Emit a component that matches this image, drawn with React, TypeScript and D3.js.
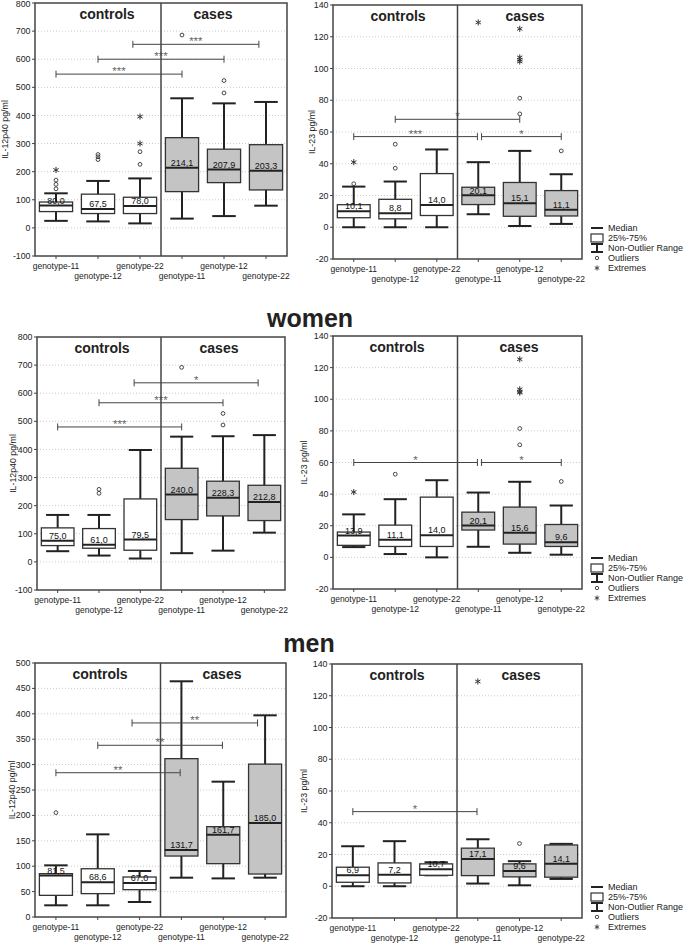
import React from 'react';
import * as d3 from 'd3';

// ---------- shared labels ----------
const categories = ['genotype-11', 'genotype-12', 'genotype-22', 'genotype-11', 'genotype-12', 'genotype-22'];
const groupLabels = ['controls', 'cases'];
const sectionTitles = ['women', 'men'];
const legendLabels = ['Median', '25%-75%', 'Non-Outlier Range', 'Outliers', 'Extremes'];

// ---------- all subjects, IL-12p40 ----------
const allIl12Median = [80.0, 67.5, 78.0, 214.1, 207.9, 203.3];
const allIl12Q1 = [58, 51, 51, 129, 161, 135];
const allIl12Q3 = [92, 120, 109, 321, 280, 296];
const allIl12Low = [25, 23, 16, 33, 42, 79];
const allIl12High = [123, 167, 176, 461, 443, 448];
const allIl12Outliers: [number, number][] = [[0, 139], [0, 155], [0, 170], [1, 243], [1, 253], [1, 261], [2, 226], [2, 271], [3, 686], [4, 480], [4, 524]];
const allIl12Extremes: [number, number][] = [[0, 206], [2, 300], [2, 396]];
const allIl12Brackets: [number, number, number, string][] = [[0, 3, 547, '***'], [1, 4, 600, '***'], [1.83, 4.83, 653, '***']];

// ---------- all subjects, IL-23 ----------
const allIl23Median = [10.1, 8.8, 14.0, 20.1, 15.1, 11.1];
const allIl23Q1 = [6.0, 5.3, 7.4, 14.3, 6.9, 7.1];
const allIl23Q3 = [14.2, 17.6, 33.8, 25.2, 28.2, 23.1];
const allIl23Low = [0, 0, 0, 8.2, 0.8, 2.1];
const allIl23High = [25.6, 28.8, 49, 41, 48.1, 33.4];
const allIl23Outliers: [number, number][] = [[0, 27.4], [1, 37.2], [1, 52.3], [4, 71.4], [4, 81.3], [5, 48.1]];
const allIl23Extremes: [number, number][] = [[0, 41], [3, 129], [4, 104.4], [4, 105.5], [4, 107], [4, 125]];
const allIl23Brackets: [number, number, number, string][] = [[0, 2.98, 57.1, '***'], [3.08, 5, 57.1, '*'], [1, 4, 68, '*']];

// ---------- women, IL-12p40 ----------
const womenIl12Median = [75.0, 61.0, 79.5, 240.0, 228.3, 212.8];
const womenIl12Q1 = [58, 48.6, 41.5, 150.5, 163.5, 147];
const womenIl12Q3 = [121, 118.5, 224, 333, 287, 272.5];
const womenIl12Low = [38, 22.5, 12, 31, 40, 104];
const womenIl12High = [167, 167, 398, 445.5, 447, 451];
const womenIl12Outliers: [number, number][] = [[1, 244], [1, 258], [3, 692], [4, 487], [4, 528]];
const womenIl12Extremes: [number, number][] = [];
const womenIl12Brackets: [number, number, number, string][] = [[0, 3, 480, '***'], [1, 4, 566, '***'], [1.85, 4.85, 637, '*']];

// ---------- women, IL-23 ----------
const womenIl23Median = [13.9, 11.1, 14.0, 20.1, 15.6, 9.6];
const womenIl23Q1 = [7.6, 6.9, 6.9, 17.3, 8.4, 6.9];
const womenIl23Q3 = [16, 20.4, 38.1, 28.6, 31.8, 20.8];
const womenIl23Low = [6.5, 2.1, 0, 6.7, 2.9, 1.7];
const womenIl23High = [27.2, 36.8, 48.8, 41, 47.8, 32.8];
const womenIl23Outliers: [number, number][] = [[1, 52.6], [4, 71.2], [4, 81.5], [5, 48]];
const womenIl23Extremes: [number, number][] = [[0, 41.3], [4, 104.2], [4, 104.8], [4, 106.3], [4, 125.3]];
const womenIl23Brackets: [number, number, number, string][] = [[0, 2.98, 60, '*'], [3.08, 5, 60, '*']];

// ---------- men, IL-12p40 ----------
const menIl12Median = [81.5, 68.6, 67.0, 131.7, 161.7, 185.0];
const menIl12Q1 = [42.6, 46, 53.8, 120, 105, 84.6];
const menIl12Q3 = [85.3, 95, 78.7, 311.7, 177.8, 301];
const menIl12Low = [23, 23, 29.5, 77.4, 76, 77.4];
const menIl12High = [101.7, 162.7, 90.5, 464, 266.4, 397];
const menIl12Outliers: [number, number][] = [[0, 205.4]];
const menIl12Extremes: [number, number][] = [];
const menIl12Brackets: [number, number, number, string][] = [[0, 2.97, 284, '**'], [1, 3.98, 338, '**'], [1.82, 4.82, 382, '**']];

// ---------- men, IL-23 ----------
const menIl23Median = [6.9, 7.2, 10.7, 17.1, 9.6, 14.1];
const menIl23Q1 = [2.5, 2.1, 6.9, 6.7, 5.9, 5.7];
const menIl23Q3 = [12, 14.7, 14.1, 24, 14.1, 26];
const menIl23Low = [0, 0, 6.9, 1.7, 0.6, 4.6];
const menIl23High = [25.2, 28.4, 15.1, 29.6, 15.8, 26.7];
const menIl23Outliers: [number, number][] = [[4, 26.9]];
const menIl23Extremes: [number, number][] = [[3, 129]];
const menIl23Brackets: [number, number, number, string][] = [[0, 2.98, 47, '*']];

type Panel = {
  x0: number; x1: number; y0: number; y1: number;
  domain: [number, number]; step: number;
  yTitle: string; yTitleX: number; titleX: [number, number];
  legend: boolean;
  median: number[]; q1: number[]; q3: number[]; low: number[]; high: number[];
  outliers: [number, number][]; extremes: [number, number][];
  brackets: [number, number, number, string][];
};

const panels: Panel[] = [
  { x0: 35, x1: 287, y0: 3, y1: 256, domain: [-100, 800], step: 100, yTitle: 'IL-12p40 pg/ml', yTitleX: 8, titleX: [107, 213], legend: false,
    median: allIl12Median, q1: allIl12Q1, q3: allIl12Q3, low: allIl12Low, high: allIl12High, outliers: allIl12Outliers, extremes: allIl12Extremes, brackets: allIl12Brackets },
  { x0: 333, x1: 582, y0: 5, y1: 259, domain: [-20, 140], step: 20, yTitle: 'IL-23 pg/ml', yTitleX: 315, titleX: [398, 525], legend: true,
    median: allIl23Median, q1: allIl23Q1, q3: allIl23Q3, low: allIl23Low, high: allIl23High, outliers: allIl23Outliers, extremes: allIl23Extremes, brackets: allIl23Brackets },
  { x0: 37, x1: 285, y0: 337, y1: 590, domain: [-100, 800], step: 100, yTitle: 'IL-12p40 pg/ml', yTitleX: 16, titleX: [102, 219], legend: false,
    median: womenIl12Median, q1: womenIl12Q1, q3: womenIl12Q3, low: womenIl12Low, high: womenIl12High, outliers: womenIl12Outliers, extremes: womenIl12Extremes, brackets: womenIl12Brackets },
  { x0: 333, x1: 582, y0: 336, y1: 589, domain: [-20, 140], step: 20, yTitle: 'IL-23 pg/ml', yTitleX: 307, titleX: [397, 519], legend: true,
    median: womenIl23Median, q1: womenIl23Q1, q3: womenIl23Q3, low: womenIl23Low, high: womenIl23High, outliers: womenIl23Outliers, extremes: womenIl23Extremes, brackets: womenIl23Brackets },
  { x0: 35, x1: 286, y0: 663, y1: 917, domain: [0, 500], step: 50, yTitle: 'IL-12p40 pg/ml', yTitleX: 15, titleX: [100, 222], legend: false,
    median: menIl12Median, q1: menIl12Q1, q3: menIl12Q3, low: menIl12Low, high: menIl12High, outliers: menIl12Outliers, extremes: menIl12Extremes, brackets: menIl12Brackets },
  { x0: 332, x1: 582, y0: 664, y1: 918, domain: [-20, 140], step: 20, yTitle: 'IL-23 pg/ml', yTitleX: 307, titleX: [397, 521], legend: true,
    median: menIl23Median, q1: menIl23Q1, q3: menIl23Q3, low: menIl23Low, high: menIl23High, outliers: menIl23Outliers, extremes: menIl23Extremes, brackets: menIl23Brackets },
];

const FONT = '"Liberation Sans", Arial, Helvetica, sans-serif';
const INK = '#222';
const fmt = (v: number) => d3.format('.1f')(v).replace('.', ',');
const asterisk = d3.symbol(d3.symbolAsterisk, 26)() as string;

function BoxPanel({ p }: { p: Panel }) {
  const idx = categories.map((_, i) => i);
  const x = d3.scaleBand<number>().domain(idx).range([p.x0, p.x1]).padding(0);
  const bw = x.bandwidth();
  const cx = (i: number) => p.x0 + (i + 0.5) * bw;
  const y = d3.scaleLinear().domain(p.domain).range([p.y1, p.y0]);
  const ticks = d3.range(p.domain[0], p.domain[1] + 0.001, p.step);
  const boxW = bw * 0.79;
  const capW = bw * 0.56;
  const divX = p.x0 + 3 * bw;
  const midY = (p.y0 + p.y1) / 2;
  return (
    <g>
      {/* grid */}
      {ticks.filter(t => t !== p.domain[0] && t !== p.domain[1]).map(t => (
        <line key={'g' + t} x1={p.x0} x2={p.x1} y1={y(t)} y2={y(t)} stroke="#bdbdbd" strokeWidth={0.8} strokeDasharray="1,2" />
      ))}
      {/* y ticks */}
      {ticks.map(t => (
        <g key={'t' + t}>
          <line x1={p.x0 - 3} x2={p.x0} y1={y(t)} y2={y(t)} stroke="#444" strokeWidth={1} />
          <text x={p.x0 - 4.5} y={Math.max(y(t), 3.6)} dy="0.35em" textAnchor="end" fontSize={8.8} fontFamily={FONT} fill={INK}>{t}</text>
        </g>
      ))}
      {/* x ticks + labels */}
      {idx.map(i => (
        <g key={'x' + i}>
          <line x1={cx(i)} x2={cx(i)} y1={p.y1} y2={p.y1 + 3} stroke="#444" strokeWidth={1} />
          <text x={cx(i)} y={p.y1 + (i % 2 === 0 ? 12.5 : 22.5)} textAnchor="middle" fontSize={8.5} fontFamily={FONT} fill={INK}>{categories[i]}</text>
        </g>
      ))}
      {/* y title */}
      <text transform={`translate(${p.yTitleX},${midY}) rotate(-90)`} textAnchor="middle" fontSize={8.8} fontFamily={FONT} fill={INK}>{p.yTitle}</text>
      {/* group titles */}
      {groupLabels.map((g, k) => (
        <text key={g} x={p.titleX[k]} y={p.y0 + 15.5} textAnchor="middle" fontSize={14} fontWeight="bold" fontFamily={FONT} fill={INK}>{g}</text>
      ))}
      {/* boxes */}
      {idx.map(i => {
        const c = cx(i);
        const fill = i < 3 ? '#ffffff' : '#c4c4c4';
        return (
          <g key={'b' + i}>
            <line x1={c} x2={c} y1={y(p.high[i])} y2={y(p.low[i])} stroke={INK} strokeWidth={2} />
            <line x1={c - capW / 2} x2={c + capW / 2} y1={y(p.high[i])} y2={y(p.high[i])} stroke={INK} strokeWidth={2} />
            <line x1={c - capW / 2} x2={c + capW / 2} y1={y(p.low[i])} y2={y(p.low[i])} stroke={INK} strokeWidth={2} />
            <rect x={c - boxW / 2} y={y(p.q3[i])} width={boxW} height={y(p.q1[i]) - y(p.q3[i])} fill={fill} stroke="#333" strokeWidth={1.3} />
            <line x1={c - boxW / 2} x2={c + boxW / 2} y1={y(p.median[i])} y2={y(p.median[i])} stroke={INK} strokeWidth={2} />
            <text x={c} y={y(p.median[i]) - 1.8} textAnchor="middle" fontSize={9} fontFamily={FONT} fill="#111">{fmt(p.median[i])}</text>
          </g>
        );
      })}
      {/* outliers */}
      {p.outliers.map(([i, v], k) => (
        <circle key={'o' + k} cx={cx(i)} cy={y(v)} r={1.9} fill="none" stroke="#333" strokeWidth={0.9} />
      ))}
      {p.extremes.map(([i, v], k) => (
        <path key={'e' + k} d={asterisk} transform={`translate(${cx(i)},${y(v)})`} fill="none" stroke="#333" strokeWidth={1} />
      ))}
      {/* significance brackets */}
      {p.brackets.map(([a, b, v, lab], k) => {
        const xa = cx(a), xb = cx(b), yy = y(v);
        return (
          <g key={'s' + k}>
            <line x1={xa} x2={xb} y1={yy} y2={yy} stroke="#444" strokeWidth={1} />
            <line x1={xa} x2={xa} y1={yy - 3.5} y2={yy + 3.5} stroke="#444" strokeWidth={1} />
            <line x1={xb} x2={xb} y1={yy - 3.5} y2={yy + 3.5} stroke="#444" strokeWidth={1} />
            <text x={(xa + xb) / 2} y={yy + 1} textAnchor="middle" fontSize={11.5} fontFamily={FONT} fill="#666">{lab}</text>
          </g>
        );
      })}
      {/* frame + divider */}
      <rect x={p.x0} y={p.y0} width={p.x1 - p.x0} height={p.y1 - p.y0} fill="none" stroke="#444" strokeWidth={1.5} />
      <line x1={divX} x2={divX} y1={p.y0} y2={p.y1} stroke="#444" strokeWidth={1.5} />
      {/* legend */}
      {p.legend && <Legend x={591} y={p.y1 - 31} />}
    </g>
  );
}

function Legend({ x, y }: { x: number; y: number }) {
  const w = 12;
  const rows = legendLabels.map((l, k) => y + k * 10);
  return (
    <g>
      <line x1={x} x2={x + w} y1={rows[0]} y2={rows[0]} stroke={INK} strokeWidth={2} />
      <rect x={x} y={rows[1] - 4} width={w} height={8} fill="#fff" stroke="#333" strokeWidth={1.2} />
      <line x1={x} x2={x + w} y1={rows[2] - 4} y2={rows[2] - 4} stroke={INK} strokeWidth={2} />
      <line x1={x + w / 2} x2={x + w / 2} y1={rows[2] - 4} y2={rows[2] + 4} stroke={INK} strokeWidth={2} />
      <line x1={x} x2={x + w} y1={rows[2] + 4} y2={rows[2] + 4} stroke={INK} strokeWidth={2} />
      <circle cx={x + w / 2} cy={rows[3]} r={1.7} fill="none" stroke="#333" strokeWidth={0.9} />
      <path d={asterisk} transform={`translate(${x + w / 2},${rows[4]}) scale(0.85)`} fill="none" stroke="#333" strokeWidth={1} />
      {legendLabels.map((l, k) => (
        <text key={l} x={x + 17} y={rows[k]} dy="0.35em" fontSize={9} fontFamily={FONT} fill={INK}>{l}</text>
      ))}
    </g>
  );
}

export default function App() {
  return (
    <svg width={685} height={943} style={{ position: 'absolute', left: 0, top: 0, background: '#fff' }}>
      <rect width={685} height={943} fill="#fff" />
      {panels.map((p, i) => <BoxPanel key={i} p={p} />)}
      <text x={310} y={327} textAnchor="middle" fontSize={25} fontWeight="bold" fontFamily={FONT} fill={INK}>{sectionTitles[0]}</text>
      <text x={309} y={652} textAnchor="middle" fontSize={25} fontWeight="bold" fontFamily={FONT} fill={INK}>{sectionTitles[1]}</text>
    </svg>
  );
}
